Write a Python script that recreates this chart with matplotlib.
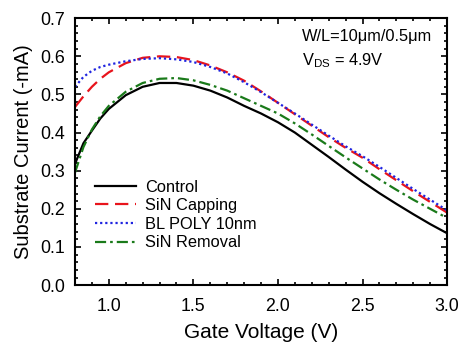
import numpy as np
import matplotlib
matplotlib.use('Agg')
import matplotlib.pyplot as plt
from matplotlib.ticker import MultipleLocator

plt.rcParams['font.family'] = ['Liberation Sans', 'DejaVu Sans']

# Datos
vg = [0.8, 0.85, 0.9, 0.95, 1.0, 1.1, 1.2, 1.3, 1.4, 1.5, 1.6, 1.7, 1.8,
      1.9, 2.0, 2.1, 2.2, 2.3, 2.4, 2.5, 2.6, 2.7, 2.8, 2.9, 3.0]

control = [0.318, 0.372, 0.405, 0.437, 0.462, 0.498, 0.520, 0.530, 0.530,
           0.523, 0.510, 0.492, 0.470, 0.450, 0.427, 0.400, 0.368, 0.336,
           0.303, 0.271, 0.241, 0.213, 0.186, 0.160, 0.136]

sin_capping = [0.467, 0.495, 0.520, 0.541, 0.558, 0.582, 0.596, 0.600, 0.598,
               0.590, 0.576, 0.558, 0.536, 0.508, 0.478, 0.448, 0.418, 0.388,
               0.360, 0.334, 0.304, 0.275, 0.246, 0.218, 0.190]

bl_poly = [0.520, 0.546, 0.562, 0.572, 0.578, 0.587, 0.593, 0.595, 0.592,
           0.585, 0.572, 0.555, 0.532, 0.506, 0.478, 0.450, 0.421, 0.392,
           0.364, 0.338, 0.310, 0.281, 0.252, 0.224, 0.196]

sin_removal = [0.295, 0.362, 0.408, 0.443, 0.470, 0.507, 0.530, 0.541, 0.543,
               0.537, 0.525, 0.510, 0.490, 0.470, 0.450, 0.424, 0.395, 0.365,
               0.335, 0.306, 0.277, 0.250, 0.224, 0.200, 0.176]

fig = plt.figure(figsize=(4.6, 3.49), dpi=100)
ax = fig.add_axes([0.163, 0.183, 0.809, 0.765])

ax.plot(vg, control, color='black', lw=1.6, label='Control')
ax.plot(vg, sin_capping, color='#e8141c', lw=1.6, dashes=(6, 3), label='SiN Capping')
ax.plot(vg, bl_poly, color='#1f24e0', lw=1.6, linestyle=(0, (1, 1.3)), label='BL POLY 10nm')
ax.plot(vg, sin_removal, color='#1a7a1a', lw=1.6, linestyle=(0, (5, 1.8, 1.2, 1.8)), label='SiN Removal')

ax.set_xlim(0.8, 3.0)
ax.set_ylim(0.0, 0.7)
ax.xaxis.set_major_locator(MultipleLocator(0.5))
ax.xaxis.set_minor_locator(MultipleLocator(0.1))
ax.yaxis.set_major_locator(MultipleLocator(0.1))
ax.yaxis.set_minor_locator(MultipleLocator(0.02))
ax.tick_params(which='both', direction='in', top=True, right=True, width=1.2)
ax.tick_params(which='major', length=4.5, labelsize=12.8, pad=7)
ax.tick_params(which='minor', length=2.5)
ax.tick_params(axis='x', pad=9)
for s in ax.spines.values():
    s.set_linewidth(1.5)

ax.set_xlabel('Gate Voltage (V)', fontsize=15, labelpad=6)
ax.set_ylabel('Substrate Current (-mA)', fontsize=14.5, labelpad=5)

ax.text(0.61, 0.915, 'W/L=10\u03bcm/0.5\u03bcm', transform=ax.transAxes, fontsize=11.8)
ax.text(0.61, 0.822, 'V$_{\\mathregular{DS}}$ = 4.9V', transform=ax.transAxes, fontsize=11.8)

ax.legend(loc='upper left', bbox_to_anchor=(0.035, 0.42), frameon=False, fontsize=11.8,
          handlelength=2.5, handletextpad=0.6, labelspacing=0.22, borderaxespad=0)

fig.savefig('out.png', dpi=100)
